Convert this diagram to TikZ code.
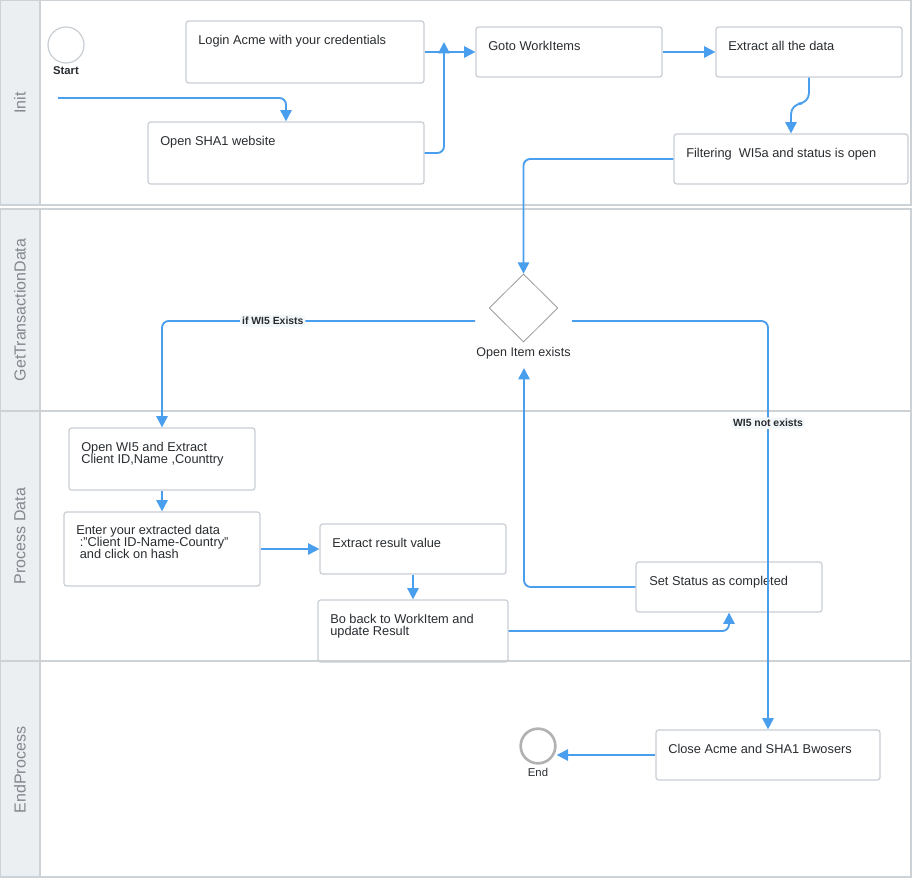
\documentclass[tikz,border=0pt]{standalone}
\usepackage{fontspec}
\setmainfont{Liberation Sans}
\usetikzlibrary{arrows.meta,shapes.geometric,fit}

\definecolor{flowblue}{RGB}{74,158,238}
\definecolor{boxline}{RGB}{200,205,210}
\definecolor{laneline}{RGB}{205,210,214}
\definecolor{headfill}{RGB}{236,239,241}
\definecolor{headtext}{RGB}{130,136,142}
\definecolor{bodytext}{RGB}{40,44,48}
\definecolor{tagfill}{RGB}{242,248,250}

\begin{document}
\begin{tikzpicture}[x=0.75pt,y=-0.75pt,
  lane/.style={draw=laneline,line width=1pt},
  head/.style={fill=headfill,draw=laneline,line width=1pt},
  lanetitle/.style={text=headtext,font=\fontsize{12}{14}\selectfont,rotate=90},
  taskbox/.style={draw=boxline,line width=0.9pt,rounded corners=2pt,inner sep=0pt},
  tasktext/.style={anchor=north west,inner sep=0pt,align=left,text=bodytext,
    font=\fontsize{9.6}{9}\selectfont},
  evt/.style={circle,draw=boxline,line width=0.9pt,minimum size=27pt,inner sep=0pt},
  endevt/.style={circle,draw=black!30,line width=2pt,minimum size=26pt,inner sep=0pt},
  evtlabel/.style={text=bodytext,inner sep=0pt,font=\bfseries\fontsize{8.5}{10}\selectfont},
  gate/.style={diamond,draw=black!45,line width=0.5pt,inner sep=0pt,
    minimum width=51.5pt,minimum height=51pt},
  flow/.style={draw=flowblue,line width=1.4pt,rounded corners=5pt,
    -{Triangle[length=8.5pt,width=8.5pt]}},
  tag/.style={fill=tagfill,rounded corners=3pt,inner sep=1.5pt,text=bodytext,
    font=\bfseries\fontsize{7.8}{9}\selectfont}]

\useasboundingbox (0,0) rectangle (912,878);

% swimlanes
\draw[lane] (0.5,0.5) rectangle (911,205);
\draw[lane] (0.5,209) rectangle (911,411);
\draw[lane] (0.5,411) rectangle (911,661);
\draw[lane] (0.5,661) rectangle (911,877);
\draw[head] (0.5,0.5) rectangle (40,205);
\draw[head] (0.5,209) rectangle (40,411);
\draw[head] (0.5,411) rectangle (40,661);
\draw[head] (0.5,661) rectangle (40,877);
\node[lanetitle] (l1) at (20,103) {Init};
\node[lanetitle] (l2) at (20,310) {GetTransactionData};
\node[lanetitle] (l3) at (20,536) {Process Data};
\node[lanetitle] (l4) at (20,770) {EndProcess};

% events
\node[evt] (start) at (66,45) {};
\node[evtlabel] (startl) at (66,71) {Start};
\node[endevt] (end) at (538,746) {};
\node[evtlabel,font=\fontsize{8.5}{10}\selectfont] (endl) at (538,772) {End};

% tasks
\node[taskbox,fit={(186,21) (424,83)}] (login) {};
\node[tasktext] (logint) at (198,35) {Login Acme with your credentials};
\node[taskbox,fit={(148,122) (424,184)}] (sha) {};
\node[tasktext] (shat) at (160,136) {Open SHA1 website};
\node[taskbox,fit={(476,27) (662,77)}] (goto) {};
\node[tasktext] (gotot) at (488,41) {Goto WorkItems};
\node[taskbox,fit={(716,27) (902,77)}] (extract) {};
\node[tasktext] (extractt) at (728,41) {Extract all the data};
\node[taskbox,fit={(674,134) (908,184)}] (filter) {};
\node[tasktext] (filtert) at (686,148) {Filtering\ \ WI5a and status is open};

\node[gate] (gw) at (523.5,308) {};
\node[text=bodytext,inner sep=0pt,font=\fontsize{9.4}{10}\selectfont] (gwl) at (523.5,353) {Open Item exists};

\node[taskbox,fit={(69,428) (255,490)}] (wi) {};
\node[tasktext] (wit) at (81,442) {Open WI5 and Extract\\Client ID,Name ,Counttry};
\node[taskbox,fit={(64,512) (260,586)}] (enter) {};
\node[tasktext] (entert) at (76,525) {Enter your extracted data\\\ :"Client ID-Name-Country"\\\ and click on hash};
\node[taskbox,fit={(320,524) (506,574)}] (res) {};
\node[tasktext] (rest) at (332,538) {Extract result value};
\node[taskbox,fit={(318,600) (508,662)}] (back) {};
\node[tasktext] (backt) at (330,614) {Bo back to WorkItem and\\update Result};
\node[taskbox,fit={(636,562) (822,612)}] (status) {};
\node[tasktext] (statust) at (649,576) {Set Status as completed};
\node[taskbox,fit={(656,730) (880,780)}] (close) {};
\node[tasktext] (closet) at (668,744) {Close Acme and SHA1 Bwosers};

% free ends of connectors
\coordinate (s0) at (58,98);
\coordinate (up) at (444,42);
\coordinate (gl) at (475,321);
\coordinate (gr) at (572,321);
\coordinate (gb) at (524,368);

% sequence flows
\draw[flow] (s0) -| (sha.north);
\draw[flow] (sha.east) -| (up);
\draw[flow] (login.east) -- (goto.west);
\draw[flow] (goto.east) -- (extract.west);
\draw[flow,rounded corners=8pt] (extract.south) -- ++(0,26) -| (filter.north);
\draw[flow] (filter.west) -| (gw.north);
\draw[flow] (gl) -| (wi.north) node[tag,pos=0.323] (t1) {if WI5 Exists};
\draw[flow] (gr) -| (close.north) node[tag,pos=0.625] (t2) {WI5 not exists};
\draw[flow] (wi.south) -- (enter.north);
\draw[flow] (enter.east) -- (res.west);
\draw[flow] (res.south) -- (back.north);
\draw[flow] (back.east) -| (status.south);
\draw[flow] (status.west) -| (gb);
\draw[flow] (close.west) -- (end.east |- close.west);
\end{tikzpicture}
\end{document}
